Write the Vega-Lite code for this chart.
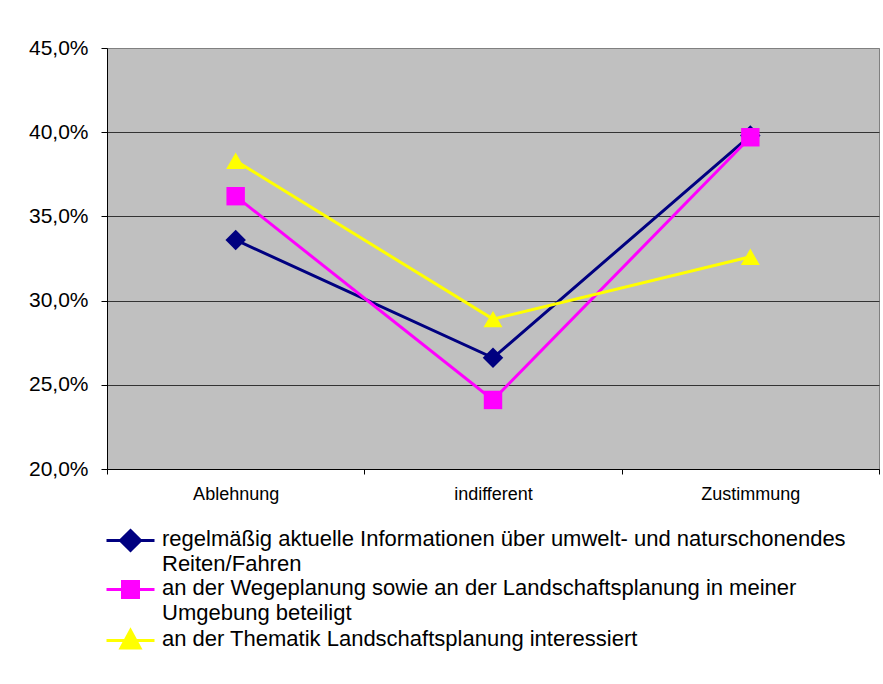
{
  "$schema": "https://vega.github.io/schema/vega-lite/v6.json",
  "width": 772,
  "height": 421,
  "autosize": {"type": "none"},
  "padding": {"left": 107, "top": 48, "right": 4, "bottom": 215},
  "background": "white",
  "config": {
    "font": "Liberation Sans",
    "view": {"fill": "#C0C0C0", "stroke": "#808080", "strokeWidth": 1}
  },
  "data": {
    "values": [
      {"kategorie": "Ablehnung", "serie": "regelmäßig aktuelle Informationen über umwelt- und naturschonendes Reiten/Fahren", "wert": 0.336},
      {"kategorie": "indifferent", "serie": "regelmäßig aktuelle Informationen über umwelt- und naturschonendes Reiten/Fahren", "wert": 0.266},
      {"kategorie": "Zustimmung", "serie": "regelmäßig aktuelle Informationen über umwelt- und naturschonendes Reiten/Fahren", "wert": 0.398},
      {"kategorie": "Ablehnung", "serie": "an der Wegeplanung sowie an der Landschaftsplanung in meiner Umgebung beteiligt", "wert": 0.362},
      {"kategorie": "indifferent", "serie": "an der Wegeplanung sowie an der Landschaftsplanung in meiner Umgebung beteiligt", "wert": 0.241},
      {"kategorie": "Zustimmung", "serie": "an der Wegeplanung sowie an der Landschaftsplanung in meiner Umgebung beteiligt", "wert": 0.397},
      {"kategorie": "Ablehnung", "serie": "an der Thematik Landschaftsplanung interessiert", "wert": 0.383},
      {"kategorie": "indifferent", "serie": "an der Thematik Landschaftsplanung interessiert", "wert": 0.289},
      {"kategorie": "Zustimmung", "serie": "an der Thematik Landschaftsplanung interessiert", "wert": 0.326}
    ]
  },
  "encoding": {
    "x": {
      "field": "kategorie",
      "type": "nominal",
      "sort": ["Ablehnung", "indifferent", "Zustimmung"],
      "scale": {"type": "band", "paddingInner": 0, "paddingOuter": 0},
      "axis": {
        "title": null,
        "labelAngle": 0,
        "tickBand": "extent",
        "tickSize": 5,
        "tickColor": "#000000",
        "domainColor": "#000000",
        "labelFontSize": 18,
        "labelColor": "#000000",
        "labelPadding": 11
      }
    },
    "y": {
      "field": "wert",
      "type": "quantitative",
      "scale": {"domain": [0.2, 0.45], "nice": false, "zero": false},
      "axis": {
        "title": null,
        "values": [0.2, 0.25, 0.3, 0.35, 0.4, 0.45],
        "labelExpr": "replace(format(datum.value, '.1%'), '.', ',')",
        "tickSize": 6,
        "tickColor": "#000000",
        "domainColor": "#000000",
        "labelFontSize": 21,
        "labelColor": "#000000",
        "labelPadding": 13,
        "grid": true,
        "gridColor": {"condition": {"test": "datum.value >= 0.449", "value": "#808080"}, "value": "#333333"},
        "gridOpacity": 1
      }
    }
  },
  "layer": [
    {
      "mark": {"type": "line", "strokeWidth": 3},
      "encoding": {
        "color": {
          "field": "serie",
          "type": "nominal",
          "scale": {
            "domain": [
              "regelmäßig aktuelle Informationen über umwelt- und naturschonendes Reiten/Fahren",
              "an der Wegeplanung sowie an der Landschaftsplanung in meiner Umgebung beteiligt",
              "an der Thematik Landschaftsplanung interessiert"
            ],
            "range": ["#000080", "#FF00FF", "#FFFF00"]
          },
          "legend": {
            "orient": "none",
            "legendX": 12,
            "legendY": 481,
            "title": null,
            "direction": "vertical",
            "symbolSize": 400,
            "labelFontSize": 22,
            "labelColor": "#000000",
            "labelLimit": 900,
            "labelOffset": 20,
            "rowPadding": 0,
            "labelBaseline": "top",
            "labelExpr": "test(/Reiten/, datum.label) ? ['regelmäßig aktuelle Informationen über umwelt- und naturschonendes', 'Reiten/Fahren'] : test(/Umgebung/, datum.label) ? ['an der Wegeplanung sowie an der Landschaftsplanung in meiner', 'Umgebung beteiligt'] : datum.label",
            "encode": {
              "symbols": {
                "update": {
                  "shape": {"signal": "test(/Reiten/, datum.value) ? 'M-2.4,0H2.4M0,-1L1,0L0,1L-1,0Z' : test(/Umgebung/, datum.value) ? 'M-2.4,0H2.4M-0.8,-0.8H0.8V0.8H-0.8Z' : 'M-2.4,0H2.4M0,-1L0.95,0.75H-0.95Z'"},
                  "fill": {"scale": "color", "field": "value"},
                  "stroke": {"scale": "color", "field": "value"},
                  "strokeWidth": {"value": 3},
                  "opacity": {"value": 1}
                }
              },
              "labels": {
                "update": {
                  "lineHeight": {"value": 25},
                  "dy": {"value": -12}
                }
              }
            }
          }
        }
      }
    },
    {
      "transform": [{"filter": "test(/Reiten/, datum.serie)"}],
      "mark": {"type": "point", "filled": true, "opacity": 1, "size": 420, "shape": "diamond", "color": "#000080"}
    },
    {
      "transform": [{"filter": "test(/Umgebung/, datum.serie)"}],
      "mark": {"type": "point", "filled": true, "opacity": 1, "size": 340, "shape": "square", "color": "#FF00FF"}
    },
    {
      "transform": [{"filter": "test(/interessiert/, datum.serie)"}],
      "mark": {"type": "point", "filled": true, "opacity": 1, "size": 360, "shape": "triangle-up", "color": "#FFFF00"}
    }
  ]
}
